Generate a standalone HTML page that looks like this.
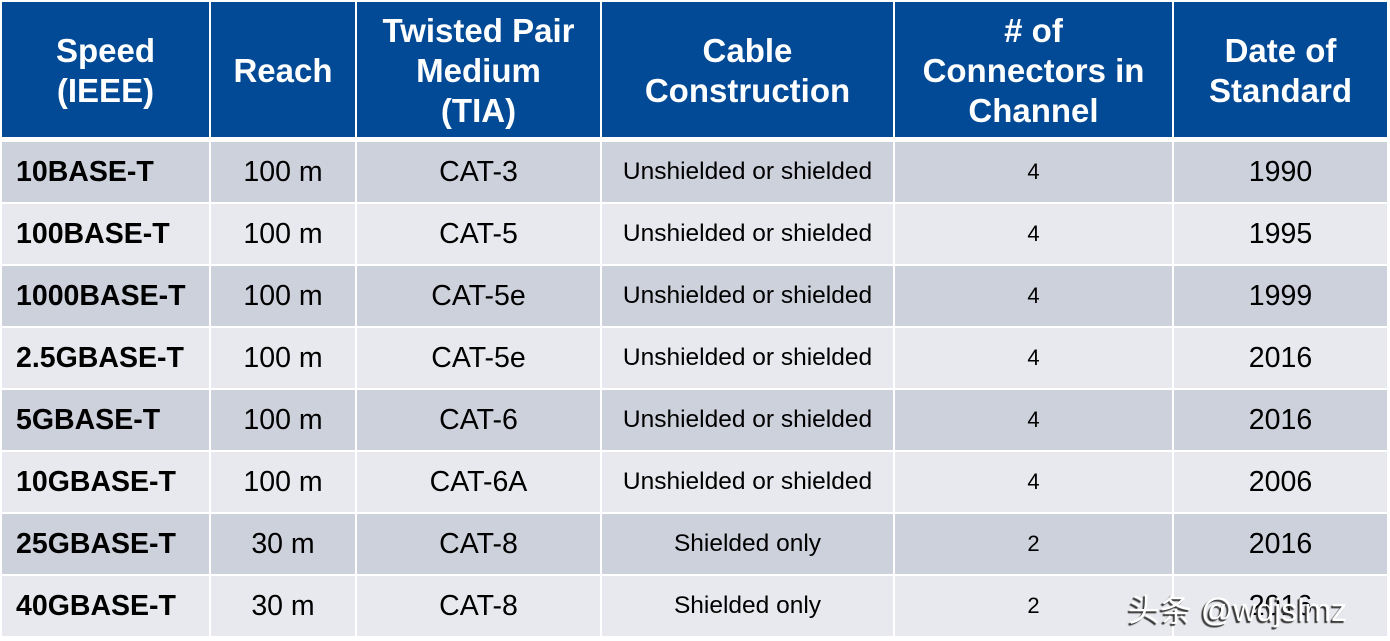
<!DOCTYPE html>
<html><head><meta charset="utf-8"><style>
body{margin:0;width:1390px;height:641px;background:#fff;position:relative;overflow:hidden;font-family:"Liberation Sans",Arial,sans-serif}
.c{position:absolute;display:flex;align-items:center;justify-content:center;text-align:center;color:#000;box-sizing:border-box}
.h{background:#034a96;color:#fff;font-weight:bold;font-size:33px;line-height:40px}
.o{background:#cdd1dc}.e{background:#e8e9ee}
.l{justify-content:flex-start;padding-left:14px;font-weight:bold;font-size:28.5px}
.n{font-size:28.5px}.s{font-size:24.5px}.f{font-size:22px}
.wm{position:absolute;left:1128px;top:585px;font-size:32px;color:#fff;font-family:"Liberation Sans","Noto Sans CJK SC",sans-serif;text-shadow:-2px 2px 1px #333}
</style></head><body>
<div id="t"></div>
<script>
var xs=[[2,209],[211,355],[357,600],[602,893],[895,1172],[1174,1387]];
var hd=["Speed<br>(IEEE)","Reach","Twisted Pair<br>Medium<br>(TIA)","Cable<br>Construction","# of<br>Connectors in<br>Channel","Date of<br>Standard"];
var rows=[["10BASE-T","100 m","CAT-3","Unshielded or shielded","4","1990"],
["100BASE-T","100 m","CAT-5","Unshielded or shielded","4","1995"],
["1000BASE-T","100 m","CAT-5e","Unshielded or shielded","4","1999"],
["2.5GBASE-T","100 m","CAT-5e","Unshielded or shielded","4","2016"],
["5GBASE-T","100 m","CAT-6","Unshielded or shielded","4","2016"],
["10GBASE-T","100 m","CAT-6A","Unshielded or shielded","4","2006"],
["25GBASE-T","30 m","CAT-8","Shielded only","2","2016"],
["40GBASE-T","30 m","CAT-8","Shielded only","2","2016"]];
var h="";
xs.forEach(function(x,i){h+='<div class="c h" style="left:'+x[0]+'px;width:'+(x[1]-x[0])+'px;top:2px;height:135px;padding-top:3px">'+hd[i]+'</div>';});
rows.forEach(function(r,j){var y=142+j*62;var cl=j%2?'e':'o';
xs.forEach(function(x,i){var k=i==0?'l':(i==3?'s':(i==4?'f':'n'));
h+='<div class="c '+cl+' '+k+'" style="left:'+x[0]+'px;width:'+(x[1]-x[0])+'px;top:'+y+'px;height:60px">'+r[i]+'</div>';});});
document.getElementById('t').innerHTML=h;
</script>
<div class="wm">头条 @wdjslmz</div>
</body></html>
